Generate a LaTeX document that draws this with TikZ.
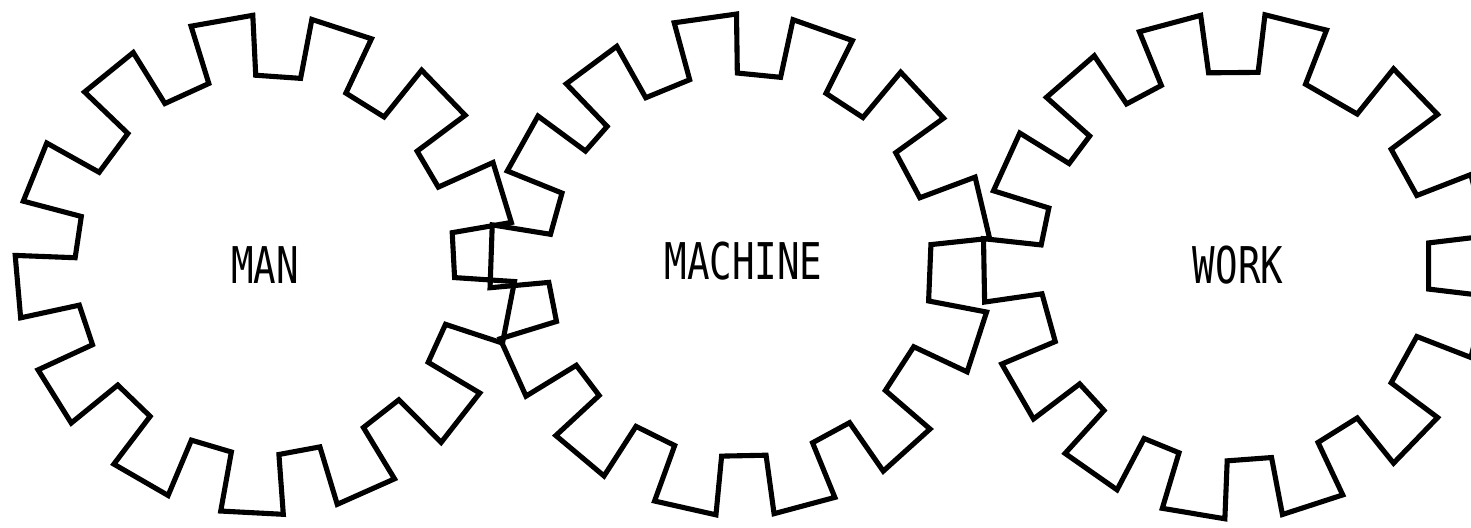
\documentclass[tikz,border=0pt]{standalone}
\usepackage{fontspec}
\usepackage{graphicx}
\newfontfamily\gearfont{DejaVu Sans Mono}
\tikzset{
  gearline/.style={line width=1.45pt, line join=miter, draw=black},
  gearlabel/.style={font=\gearfont\fontsize{14.4pt}{17pt}\selectfont, inner sep=0pt, text=black}
}
% #1,#2 centre; #3 inner radius; #4 outer radius; #5 first tooth angle; #6 tooth angles (descending)
\newcommand{\drawgear}[6]{%
  \begin{scope}[shift={(#1,#2)}]
    \draw[gearline] ({#5+7.2}:#3)
      \foreach \a in {#6} { -- ({\a+7.2}:#3) -- ({\a+7.2}:#4) -- ({\a-7.2}:#4) -- ({\a-7.2}:#3) }
      -- cycle;
  \end{scope}}
\begin{document}
\begin{tikzpicture}[x=0.01cm,y=0.01cm]
  \clip (0,0) rectangle (1471,527);
  \fill[white] (0,0) rectangle (1471,527);
  % MAN gear
  \drawgear{265}{262}{190}{250}{100}{100,72,44,17,-11,-38,-66,-93,-120,-148,-175,-202,-231}
  % MACHINE gear
  \drawgear{740}{262}{192}{251}{98}{98,70.6,43,13.3,-18,-48,-75,-102.7,-130,-155.7,-182,-209.2,-233.4}
  % WORK gear
  \drawgear{1235}{261}{195}{253}{105}{105,76,44,14,-14,-44,-72,-99.5,-125,-150,-179,-204.5,-229}
  \node[gearlabel] (man) at (265,262) {\scalebox{0.74}[1]{MAN}};
  \node[gearlabel] (machine) at (743.5,265.5) {\scalebox{0.74}[1]{MACHINE}};
  \node[gearlabel] (work) at (1238,262) {\scalebox{0.74}[1]{WORK}};
\end{tikzpicture}
\end{document}
